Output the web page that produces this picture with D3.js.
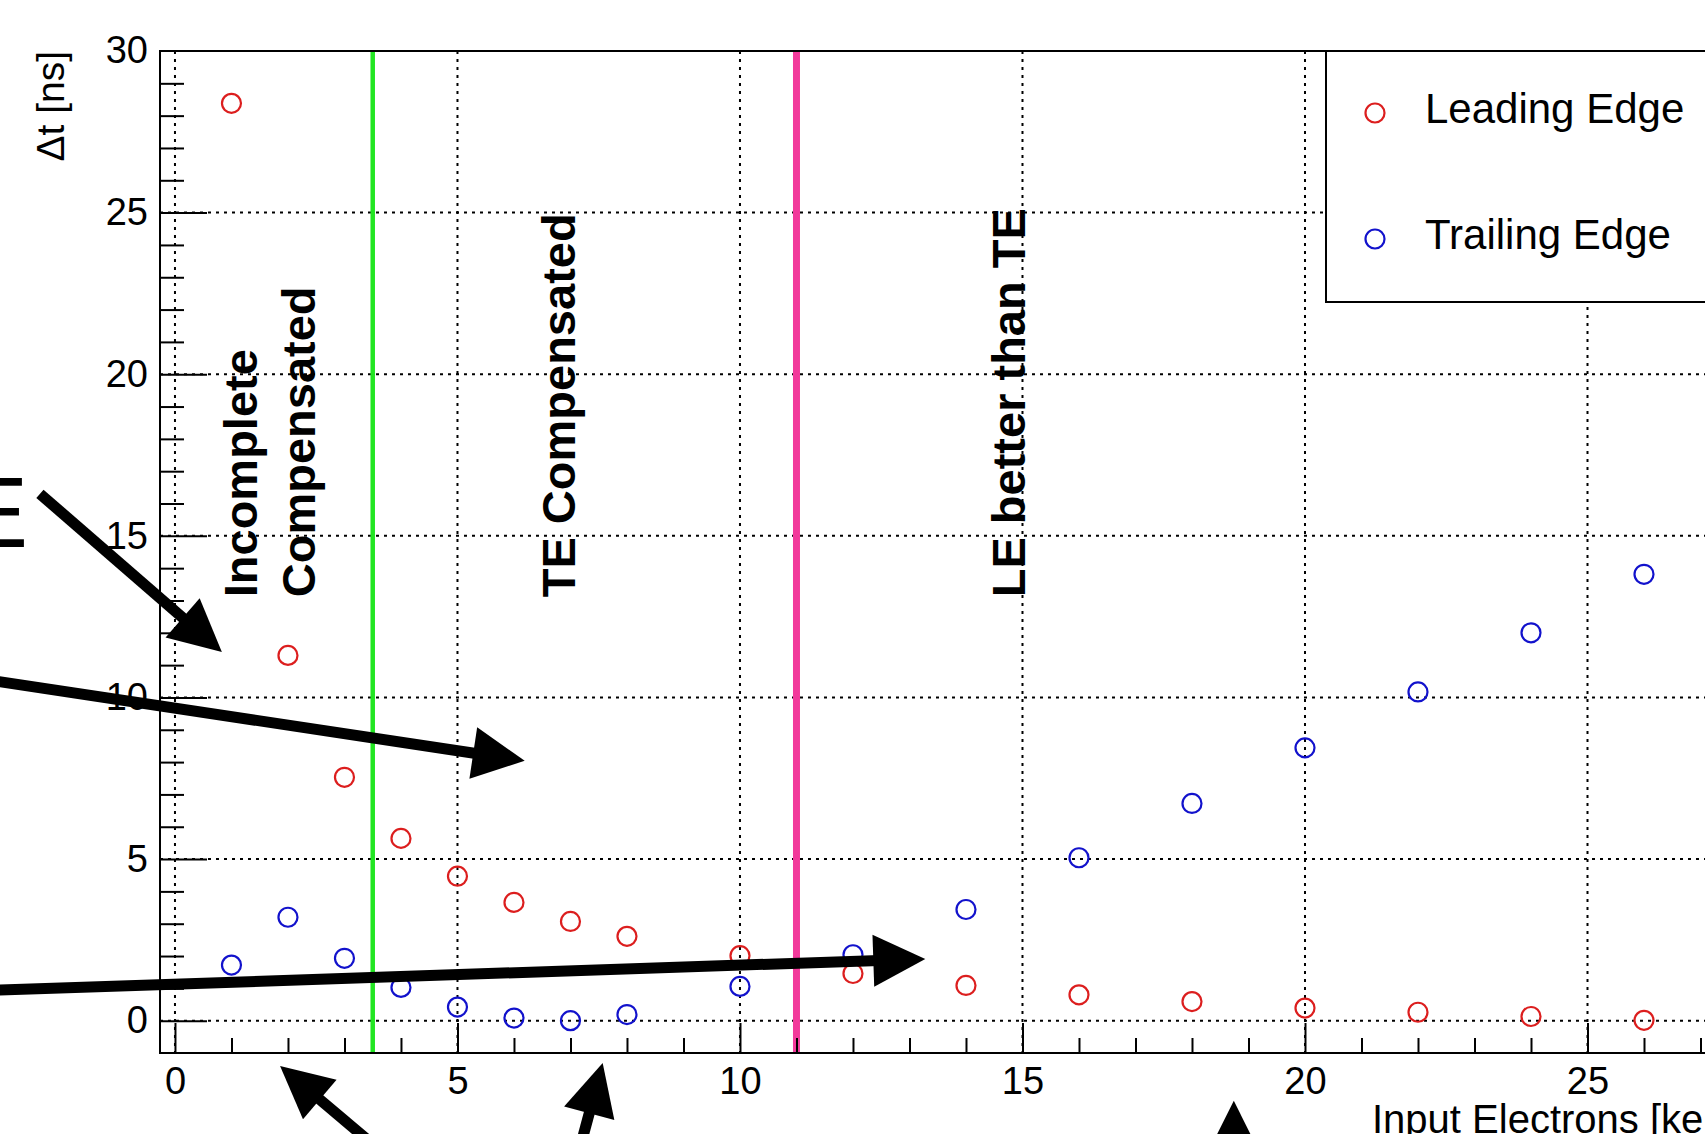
<!DOCTYPE html>
<html>
<head>
<meta charset="utf-8">
<script src="https://cdn.jsdelivr.net/npm/d3@7"></script>
<style>
  body { margin: 0; background: #fff; }
  svg { display: block; }
  text { font-family: "Liberation Sans", Arial, Helvetica, sans-serif; }
</style>
</head>
<body>
<script>
// ---- data ----
var electrons = [1, 2, 3, 4, 5, 6, 7, 8, 10, 12, 14, 16, 18, 20, 22, 24, 26];
var leadingEdge = [28.38, 11.30, 7.53, 5.64, 4.47, 3.66, 3.07, 2.61, 2.01, 1.46, 1.09, 0.80, 0.59, 0.39, 0.26, 0.13, 0.01];
var trailingEdge = [1.72, 3.20, 1.93, 1.03, 0.42, 0.08, 0.00, 0.19, 1.06, 2.04, 3.44, 5.04, 6.72, 8.44, 10.17, 12.00, 13.81];

var seriesNames = ["Leading Edge", "Trailing Edge"];
var seriesColors = ["#dc1e1e", "#1212cc"];

var xMajorTicks = [0, 5, 10, 15, 20, 25];
var yMajorTicks = [0, 5, 10, 15, 20, 25, 30];

// region boundaries (ke-) and their labels
var regionBounds = [3.5, 11];
var regionColors = ["#22e622", "#f23a9b"];
var regionLabels = [["Incomplete", "Compensated"], ["TE Compensated"], ["LE better than TE"]];

// annotation arrows, tail -> tip, in plot units
var arrowTails = [[-2.39, 16.30], [-3.27, 10.53], [-3.27, 0.94], [3.62, -4.00], [7.02, -4.90], [18.74, -8.00]];
var arrowTips  = [[0.83, 11.41], [6.19, 8.04], [13.28, 1.91], [1.86, -1.40], [7.57, -1.31], [18.74, -2.48]];

// ---- layout ----
var width = 1705, height = 1134;
var frame = {left: 160, top: 51, bottom: 1053};

// set the ranges
var x = d3.scaleLinear().domain([-0.265, 25]).range([frame.left, 1587.5]);
var y = d3.scaleLinear().domain([-1, 30]).range([frame.bottom, frame.top]);

var svg = d3.select("body").append("svg")
    .attr("width", width)
    .attr("height", height);

svg.append("rect")
    .attr("width", width)
    .attr("height", height)
    .attr("fill", "#fff");

// dotted grid at the major ticks
var grid = svg.append("g")
    .attr("stroke", "#000")
    .attr("stroke-width", 2)
    .attr("stroke-dasharray", "3,5");

grid.selectAll("line.gx")
    .data(xMajorTicks)
  .enter().append("line")
    .attr("class", "gx")
    .attr("x1", function(d) { return x(d); })
    .attr("x2", function(d) { return x(d); })
    .attr("y1", frame.top)
    .attr("y2", frame.bottom);

grid.selectAll("line.gy")
    .data(yMajorTicks.filter(function(d) { return d < 30; }))
  .enter().append("line")
    .attr("class", "gy")
    .attr("x1", frame.left)
    .attr("x2", width + 10)
    .attr("y1", function(d) { return y(d); })
    .attr("y2", function(d) { return y(d); });

// region boundary lines
svg.selectAll("line.region")
    .data(regionBounds)
  .enter().append("line")
    .attr("class", "region")
    .attr("x1", function(d) { return x(d); })
    .attr("x2", function(d) { return x(d); })
    .attr("y1", frame.top)
    .attr("y2", frame.bottom)
    .attr("stroke", function(d, i) { return regionColors[i]; })
    .attr("stroke-width", function(d, i) { return i === 0 ? 4.5 : 7; });

// rotated region labels (baseline position of first line, in plot units)
var labelX = [1.45, 7.08, 15.04];
var labelY = 13.1;
var lineGap = 58;

regionLabels.forEach(function(lines, i) {
  lines.forEach(function(t, j) {
    svg.append("text")
        .attr("transform", "translate(" + (x(labelX[i]) + j * lineGap) + "," + y(labelY) + ") rotate(-90)")
        .attr("font-size", 47)
        .attr("font-weight", "bold")
        .attr("fill", "#000")
        .text(t);
  });
});

// X axis: major + minor ticks pointing into the frame
var xAxis = svg.append("g")
    .attr("transform", "translate(0," + frame.bottom + ")")
    .call(d3.axisBottom(x).tickValues(xMajorTicks).tickSize(-30).tickSizeOuter(0).tickPadding(14).tickFormat(d3.format("d")));
xAxis.select(".domain").remove();

var xMinor = svg.append("g")
    .attr("transform", "translate(0," + frame.bottom + ")")
    .call(d3.axisBottom(x).tickValues(d3.range(1, 28).filter(function(d) { return d % 5; })).tickSize(-15).tickSizeOuter(0).tickFormat(""));
xMinor.select(".domain").remove();

// Y axis
var yAxis = svg.append("g")
    .attr("transform", "translate(" + frame.left + ",0)")
    .call(d3.axisLeft(y).tickValues(yMajorTicks.filter(function(d) { return d < 30; })).tickSize(-47).tickSizeOuter(0).tickPadding(12).tickFormat(d3.format("d")));
yAxis.select(".domain").remove();
// the 30 label sits on the top frame line
yAxis.append("text")
    .attr("x", -12)
    .attr("y", y(30))
    .attr("dy", "0.32em")
    .attr("text-anchor", "end")
    .attr("fill", "currentColor")
    .text("30");

var yMinor = svg.append("g")
    .attr("transform", "translate(" + frame.left + ",0)")
    .call(d3.axisLeft(y).tickValues(d3.range(1, 30).filter(function(d) { return d % 5; })).tickSize(-24).tickSizeOuter(0).tickFormat(""));
yMinor.select(".domain").remove();

[xAxis, xMinor, yAxis, yMinor].forEach(function(g) {
  g.attr("font-size", 38).attr("font-family", null);
  g.selectAll("line").attr("stroke-width", 2);
  g.selectAll("text").attr("fill", "#000");
});

// frame
svg.append("path")
    .attr("d", "M" + (width + 10) + "," + frame.top + "H" + frame.left + "V" + frame.bottom + "H" + (width + 10))
    .attr("fill", "none")
    .attr("stroke", "#000")
    .attr("stroke-width", 2);

// axis titles
svg.append("text")
    .attr("transform", "translate(64," + frame.top + ") rotate(-90)")
    .attr("text-anchor", "end")
    .attr("font-size", 39)
    .text("\u0394t [ns]");

svg.append("text")
    .attr("x", 1372)
    .attr("y", 1133)
    .attr("font-size", 40)
    .text("Input Electrons [ke");

// the two series as open circles
[leadingEdge, trailingEdge].forEach(function(vals, s) {
  svg.append("g").selectAll("circle")
      .data(vals)
    .enter().append("circle")
      .attr("cx", function(d, i) { return x(electrons[i]); })
      .attr("cy", function(d) { return y(d); })
      .attr("r", 9.5)
      .attr("fill", "none")
      .attr("stroke", seriesColors[s])
      .attr("stroke-width", 2.2);
});

// legend
var legend = svg.append("g");
legend.append("rect")
    .attr("x", 1326)
    .attr("y", frame.top)
    .attr("width", 420)
    .attr("height", 251)
    .attr("fill", "#fff")
    .attr("stroke", "#000")
    .attr("stroke-width", 2);

seriesNames.forEach(function(name, i) {
  var cy = 113 + i * 126;
  legend.append("circle")
      .attr("cx", 1375)
      .attr("cy", cy)
      .attr("r", 9.5)
      .attr("fill", "none")
      .attr("stroke", seriesColors[i])
      .attr("stroke-width", 2.2);
  legend.append("text")
      .attr("x", 1425)
      .attr("y", cy + 10)
      .attr("font-size", 42)
      .text(name);
});

// cropped letter at the left edge
svg.append("text")
    .attr("x", x(-2.6))
    .attr("y", y(14.67))
    .attr("text-anchor", "end")
    .attr("font-size", 100)
    .text("E");

// black annotation arrows
var headLen = 52, headHalf = 26;
arrowTails.forEach(function(t, i) {
  var p0 = [x(t[0]), y(t[1])];
  var p1 = [x(arrowTips[i][0]), y(arrowTips[i][1])];
  var dx = p1[0] - p0[0], dy = p1[1] - p0[1];
  var len = Math.sqrt(dx * dx + dy * dy);
  var ux = dx / len, uy = dy / len;
  var bx = p1[0] - ux * headLen, by = p1[1] - uy * headLen;

  svg.append("line")
      .attr("x1", p0[0]).attr("y1", p0[1])
      .attr("x2", bx + ux * 6).attr("y2", by + uy * 6)
      .attr("stroke", "#000")
      .attr("stroke-width", 11);

  svg.append("path")
      .attr("d", d3.line()([
        p1,
        [bx - uy * headHalf, by + ux * headHalf],
        [bx + uy * headHalf, by - ux * headHalf]
      ]) + "Z")
      .attr("fill", "#000");
});
</script>
</body>
</html>
